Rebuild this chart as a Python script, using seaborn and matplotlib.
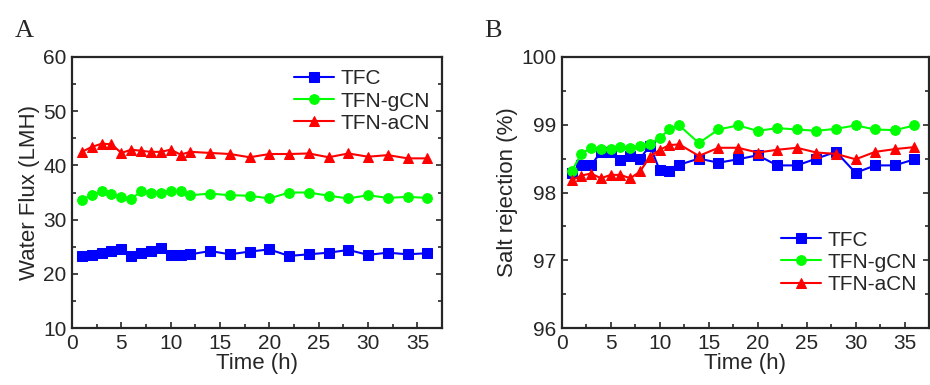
import numpy as np
import pandas as pd
import seaborn as sns
import matplotlib.pyplot as plt
from matplotlib.ticker import MultipleLocator

time_h = [1, 2, 3, 4, 5, 6, 7, 8, 9, 10, 11, 12,
          14, 16, 18, 20, 22, 24, 26, 28, 30, 32, 34, 36]
labels = ['TFC', 'TFN-gCN', 'TFN-aCN']

flux_tfc = [23.2, 23.5, 23.9, 24.3, 24.5, 23.3, 23.9, 24.3, 24.7, 23.4, 23.5, 23.6,
            24.2, 23.6, 24.1, 24.5, 23.3, 23.6, 23.9, 24.4, 23.5, 23.9, 23.6, 23.8]
flux_gcn = [33.7, 34.5, 35.2, 34.8, 34.1, 33.8, 35.2, 35.0, 35.0, 35.3, 35.3, 34.5,
            34.8, 34.5, 34.4, 33.9, 35.0, 35.0, 34.4, 33.9, 34.5, 34.0, 34.2, 34.0]
flux_acn = [42.5, 43.4, 44.0, 43.9, 42.3, 42.9, 42.7, 42.5, 42.5, 42.9, 42.0, 42.5,
            42.3, 42.1, 41.5, 42.1, 42.1, 42.2, 41.5, 42.2, 41.6, 41.9, 41.3, 41.3]

rej_tfc = [98.29, 98.41, 98.40, 98.60, 98.60, 98.48, 98.54, 98.50, 98.69, 98.33, 98.31, 98.41,
           98.50, 98.44, 98.49, 98.55, 98.40, 98.40, 98.50, 98.60, 98.29, 98.40, 98.40, 98.49]
rej_gcn = [98.31, 98.57, 98.66, 98.64, 98.64, 98.67, 98.66, 98.68, 98.71, 98.81, 98.93, 98.99,
           98.73, 98.93, 98.99, 98.91, 98.95, 98.93, 98.91, 98.94, 98.99, 98.93, 98.92, 98.99]
rej_acn = [98.18, 98.25, 98.28, 98.21, 98.26, 98.26, 98.21, 98.31, 98.53, 98.63, 98.70, 98.71,
           98.54, 98.66, 98.66, 98.59, 98.63, 98.66, 98.59, 98.57, 98.49, 98.60, 98.64, 98.67]

colors = ['#0000ff', '#00ff00', '#ff0000']
markers = ['s', 'o', '^']

sns.set_style('ticks')
plt.rcParams['font.family'] = ['Liberation Sans', 'DejaVu Sans']

fig = plt.figure(figsize=(9.3, 3.85), dpi=100)
axA = fig.add_axes([0.0774, 0.148, 0.398, 0.704])
axB = fig.add_axes([0.604, 0.148, 0.395, 0.704])


def draw(ax, series, ylim, major, minor, ylabel, legend_loc, legend_anchor):
    for vals, lab, c, m in zip(series, labels, colors, markers):
        sns.lineplot(x=time_h, y=vals, ax=ax, color=c, marker=m, label=lab,
                     markersize=7, markeredgecolor=c, linewidth=1.5)
    ax.set_xlim(0, 37.5)
    ax.set_ylim(*ylim)
    ax.xaxis.set_major_locator(MultipleLocator(5))
    ax.xaxis.set_minor_locator(MultipleLocator(2.5))
    ax.yaxis.set_major_locator(MultipleLocator(major))
    ax.yaxis.set_minor_locator(MultipleLocator(minor))
    ax.tick_params(which='both', direction='in', top=False, right=True,
                   labelsize=15, width=1.2, pad=4)
    ax.tick_params(which='major', length=4.5)
    ax.tick_params(which='minor', length=3)
    for s in ax.spines.values():
        s.set_linewidth(1.6)
    ax.set_xlabel('Time (h)', fontsize=16, labelpad=0)
    ax.set_ylabel(ylabel, fontsize=16, labelpad=2)
    ax.legend(loc=legend_loc, bbox_to_anchor=legend_anchor, frameon=False,
              fontsize=15, handlelength=1.9, handletextpad=0.3,
              labelspacing=0.15, borderaxespad=0.2)


draw(axA, [flux_tfc, flux_gcn, flux_acn], (10, 60), 10, 5,
     'Water Flux (LMH)', 'upper right', (1.0, 1.0))
draw(axB, [rej_tfc, rej_gcn, rej_acn], (96, 100), 1, 0.5,
     'Salt rejection (%)', 'lower right', (1.0, 0.08))

fig.text(0.016, 0.905, 'A', fontsize=19, family='Liberation Serif')
fig.text(0.521, 0.905, 'B', fontsize=19, family='Liberation Serif')

fig.savefig('out.png', dpi=100)
